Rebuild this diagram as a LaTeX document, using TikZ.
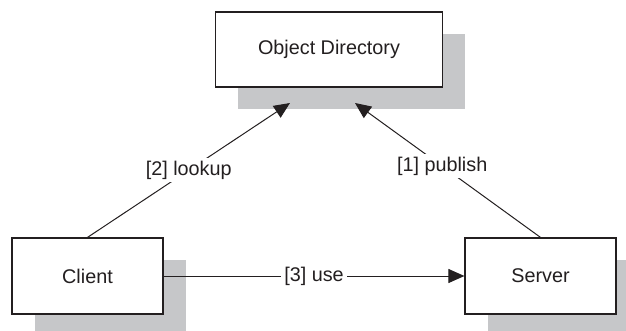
\documentclass[tikz,border=0pt]{standalone}
\usepackage{fontspec}
\setmainfont{Liberation Sans}
\usetikzlibrary{arrows.meta,shadows}
\definecolor{ink}{HTML}{231F20}
\definecolor{shade}{HTML}{C6C7C9}
\begin{document}
\begin{tikzpicture}[x=1pt,y=-1pt,
  every node/.style={font=\fontsize{19.8}{24}\selectfont, text=ink},
  block/.style={draw=ink, line width=1.2pt, fill=white, inner sep=0pt,
    drop shadow={shadow xshift=22.5pt, shadow yshift=-22pt, fill=shade, opacity=1, draw=none}},
  link/.style={draw=ink, line width=1pt, -{Triangle[length=16pt,width=14pt]}},
  tag/.style={fill=white, inner sep=3pt}]
  \useasboundingbox (0,0) rectangle (626,331);

  % the three components, each with an offset grey shadow
  \node[block, minimum width=227pt, minimum height=75pt] (dir) at (329,49.5) {Object Directory};
  \node[block, minimum width=151pt, minimum height=76pt] (client) at (87.5,276) {Client};
  \node[block, minimum width=151pt, minimum height=76pt] (server) at (540.5,276) {Server};

  % arrow tips just below the directory box
  \coordinate (lookupEnd) at (290,103);
  \coordinate (publishEnd) at (355,103);

  % interactions
  \draw[link] (client.north) -- node[tag] {[2] lookup} (lookupEnd);
  \draw[link] (server.north) -- node[tag, pos=0.53] {[1] publish} (publishEnd);
  \draw[link] (client.east) -- node[tag] {[3] use} (server.west);
\end{tikzpicture}
\end{document}
